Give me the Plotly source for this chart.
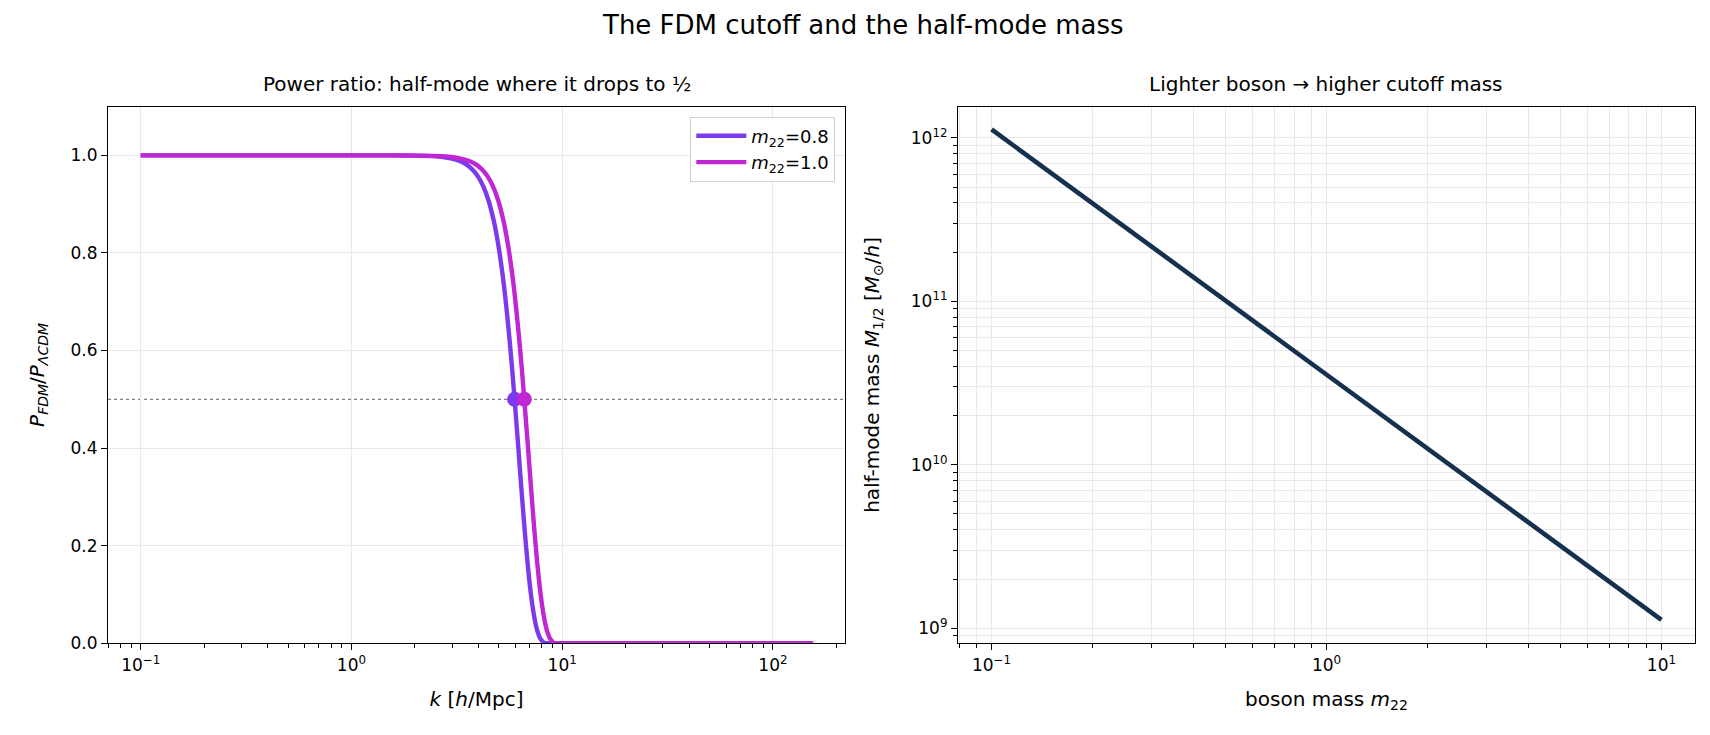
import plotly.graph_objects as go

# left panel: P_FDM / P_LCDM (k in h/Mpc)
k_m08 = [0.1, 0.316, 1.0, 1.585, 1.995, 2.512, 2.818, 3.162, 3.350, 3.548,
         3.758, 3.981, 4.217, 4.467, 4.732, 4.870, 5.012, 5.158, 5.309, 5.464,
         5.623, 5.788, 5.943, 6.132, 6.310, 6.494, 6.683, 6.879, 7.079, 7.286,
         7.499, 7.718, 7.943, 8.175, 8.414, 10.0, 31.6, 100.0, 155.0]
k_m10 = [0.1, 0.316, 1.0, 1.585, 2.218, 2.793, 3.133, 3.515, 3.724, 3.944,
         4.178, 4.426, 4.688, 4.966, 5.261, 5.414, 5.572, 5.734, 5.902, 6.074,
         6.251, 6.435, 6.607, 6.817, 7.015, 7.219, 7.429, 7.647, 7.870, 8.100,
         8.337, 8.580, 8.830, 9.088, 9.354, 10.5, 31.6, 100.0, 155.0]
ratio_m08 = [1.0, 1.0, 1.0, 1.0, 0.9995, 0.998, 0.9955, 0.9905, 0.9862, 0.980,
             0.9705, 0.957, 0.9369, 0.908, 0.8663, 0.8398, 0.808, 0.7707, 0.728, 0.6783,
             0.623, 0.5613, 0.500, 0.4245, 0.353, 0.2825, 0.216, 0.1564, 0.106, 0.0666,
             0.037, 0.0179, 0.007, 0.0014, 0.0, 0.0, 0.0, 0.0, 0.0]
ratio_m10 = [1.0, 1.0, 1.0, 1.0, 0.9995, 0.998, 0.9955, 0.9905, 0.9862, 0.980,
             0.9705, 0.957, 0.9369, 0.908, 0.8663, 0.8398, 0.808, 0.7707, 0.728, 0.6783,
             0.623, 0.5613, 0.500, 0.4245, 0.353, 0.2825, 0.216, 0.1564, 0.106, 0.0666,
             0.037, 0.0179, 0.007, 0.0014, 0.0, 0.0, 0.0, 0.0, 0.0]
half_level = 0.5
k_half = [5.94, 6.61]
m22_names = ["0.8", "1.0"]

# right panel: half-mode mass vs boson mass
boson_mass = [0.1, 0.2, 0.3, 0.5, 1.0, 2.0, 3.0, 5.0, 10.0]
half_mode_mass = [1.126e12, 3.98e11, 2.17e11, 1.007e11, 3.56e10,
                  1.259e10, 6.85e9, 3.18e9, 1.126e9]

k_tickvals = [0.1, 1, 10, 100]
k_ticktext = ["10<sup>−1</sup>", "10<sup>0</sup>", "10<sup>1</sup>", "10<sup>2</sup>"]
m_tickvals = [0.1, 1, 10]
m_ticktext = ["10<sup>−1</sup>", "10<sup>0</sup>", "10<sup>1</sup>"]
M_tickvals = [1e9, 1e10, 1e11, 1e12]
M_ticktext = ["10<sup>9</sup>", "10<sup>10</sup>", "10<sup>11</sup>", "10<sup>12</sup>"]
ratio_tickvals = [0.0, 0.2, 0.4, 0.6, 0.8, 1.0]

minor_vals = [m * 10.0 ** e for e in range(-2, 13) for m in range(2, 10)]

purple = "#7c3aed"
magenta = "#c026d3"
navy = "#163150"
grid = "#e9e9e9"

fig = go.Figure()

for k, r, name, col in [(k_m08, ratio_m08, m22_names[0], purple),
                        (k_m10, ratio_m10, m22_names[1], magenta)]:
    fig.add_trace(go.Scatter(
        x=k, y=r, mode="lines", name="<i>m</i><sub>22</sub>=" + name,
        line=dict(color=col, width=4.4, shape="spline", smoothing=0.8),
        xaxis="x", yaxis="y",
    ))
for kh, col in zip(k_half, [purple, magenta]):
    fig.add_trace(go.Scatter(
        x=[kh], y=[half_level], mode="markers", showlegend=False,
        marker=dict(color=col, size=15), xaxis="x", yaxis="y",
    ))

fig.add_trace(go.Scatter(
    x=boson_mass, y=half_mode_mass, mode="lines", showlegend=False,
    line=dict(color=navy, width=4.6), xaxis="x2", yaxis="y2",
))

fig.add_shape(type="line", xref="x domain", x0=0, x1=1, yref="y",
              y0=half_level, y1=half_level,
              line=dict(color="#808080", width=1.3, dash="dot"), layer="below")

axis_common = dict(
    showline=True, mirror=True, linecolor="black", linewidth=1.3,
    ticks="outside", ticklen=6, tickwidth=1.3, tickcolor="black",
    zeroline=False, tickfont=dict(size=17),
)
minor_common = dict(tickvals=minor_vals, ticks="outside", ticklen=3.5,
                    tickwidth=1.0, tickcolor="black")

fig.update_layout(
    width=1710, height=735,
    margin=dict(l=0, r=0, t=0, b=0),
    paper_bgcolor="white", plot_bgcolor="white",
    font=dict(family="DejaVu Sans", size=17, color="black"),
    xaxis=dict(
        axis_common, type="log", domain=[0.0585, 0.4895], range=[-1.155, 2.342],
        tickvals=k_tickvals, ticktext=k_ticktext, showgrid=True, gridcolor=grid,
        minor=dict(minor_common, showgrid=False),
        title=dict(text="<i>k</i> [<i>h</i>/Mpc]", standoff=18), anchor="y",
    ),
    yaxis=dict(
        axis_common, domain=[0.1238, 0.864], range=[0, 1.1],
        tickvals=ratio_tickvals, tickformat=".1f", showgrid=True, gridcolor=grid,
        title=dict(text="<i>P</i><sub><i>FDM</i></sub>/<i>P</i><sub><i>ΛCDM</i></sub>",
                   standoff=20), anchor="x",
    ),
    xaxis2=dict(
        axis_common, type="log", domain=[0.5556, 0.9865], range=[-1.1, 1.1],
        tickvals=m_tickvals, ticktext=m_ticktext, showgrid=True, gridcolor=grid,
        minor=dict(minor_common, showgrid=True, gridcolor=grid),
        title=dict(text="boson mass <i>m</i><sub>22</sub>", standoff=18), anchor="y2",
    ),
    yaxis2=dict(
        axis_common, type="log", domain=[0.1238, 0.864], range=[8.908, 12.191],
        tickvals=M_tickvals, ticktext=M_ticktext, showgrid=True, gridcolor=grid,
        minor=dict(minor_common, showgrid=True, gridcolor=grid),
        title=dict(text="half-mode mass <i>M</i><sub>1/2</sub> [<i>M</i><sub>⊙</sub>/<i>h</i>]",
                   standoff=25), anchor="x2",
    ),
    legend=dict(
        x=0.4838, y=0.8503, xanchor="right", yanchor="top",
        bgcolor="white", bordercolor="#d0d0d0", borderwidth=1,
        font=dict(size=18), itemwidth=50,
    ),
    annotations=[
        dict(text="The FDM cutoff and the half-mode mass", x=0.5, y=1.0,
             xref="paper", yref="paper", showarrow=False, xanchor="center",
             yanchor="top", font=dict(size=26)),
        dict(text="Power ratio: half-mode where it drops to ½", x=0.274, y=0.895,
             xref="paper", yref="paper", showarrow=False, xanchor="center",
             yanchor="middle", font=dict(size=20)),
        dict(text="Lighter boson → higher cutoff mass", x=0.771, y=0.895,
             xref="paper", yref="paper", showarrow=False, xanchor="center",
             yanchor="middle", font=dict(size=20)),
    ],
)

fig.write_html("out.html")
